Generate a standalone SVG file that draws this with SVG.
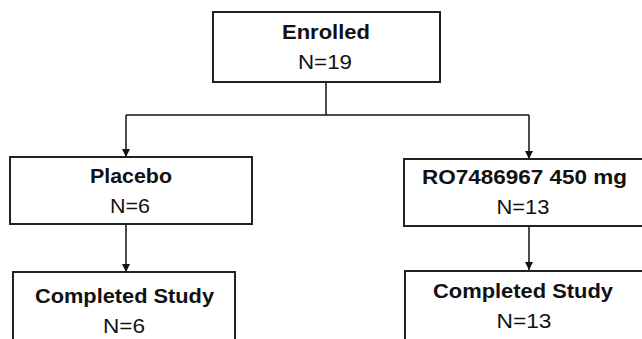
<svg xmlns="http://www.w3.org/2000/svg" width="642" height="339" viewBox="0 0 642 339">
<defs>
<marker id="ah" markerWidth="8" markerHeight="10" refX="8" refY="4" orient="auto" markerUnits="userSpaceOnUse">
<path d="M0,0 L8,4 L0,8 z" fill="#111"/>
</marker>
<style>
.box{fill:#fff;stroke:#222;stroke-width:2}
.t{font-family:"Liberation Sans","Open Sans",Arial,sans-serif;font-size:20px;fill:#111;text-anchor:middle}
.b{font-weight:bold}
.ln{stroke:#111;stroke-width:1.5;fill:none}
</style>
</defs>
<rect width="642" height="339" fill="#fff"/>
<g id="connectors">
<line class="ln" x1="326" y1="82" x2="326" y2="115"/>
<line class="ln" x1="126" y1="115" x2="529" y2="115"/>
<line class="ln" x1="126" y1="115" x2="126" y2="157" marker-end="url(#ah)"/>
<line class="ln" x1="529" y1="115" x2="529" y2="159" marker-end="url(#ah)"/>
<line class="ln" x1="126" y1="225" x2="126" y2="272" marker-end="url(#ah)"/>
<line class="ln" x1="529" y1="226" x2="529" y2="270" marker-end="url(#ah)"/>
</g>
<g id="enrolled">
<rect class="box" x="213" y="12" width="227" height="70"/>
<text class="t b" x="326" y="39" textLength="88" lengthAdjust="spacingAndGlyphs">Enrolled</text>
<text class="t" x="325" y="69" textLength="54" lengthAdjust="spacingAndGlyphs">N=19</text>
</g>
<g id="placebo">
<rect class="box" x="10" y="157" width="242" height="67"/>
<text class="t b" x="131" y="183" textLength="82" lengthAdjust="spacingAndGlyphs">Placebo</text>
<text class="t" x="130" y="213" textLength="40" lengthAdjust="spacingAndGlyphs">N=6</text>
</g>
<g id="ro">
<rect class="box" x="404" y="159" width="250" height="67"/>
<text class="t b" x="524.5" y="184" textLength="205" lengthAdjust="spacingAndGlyphs">RO7486967 450 mg</text>
<text class="t" x="523" y="214" textLength="53" lengthAdjust="spacingAndGlyphs">N=13</text>
</g>
<g id="completed-placebo">
<rect class="box" x="13" y="272" width="222" height="80"/>
<text class="t b" x="124.5" y="303" textLength="179" lengthAdjust="spacingAndGlyphs">Completed Study</text>
<text class="t" x="124" y="333" textLength="42" lengthAdjust="spacingAndGlyphs">N=6</text>
</g>
<g id="completed-ro">
<rect class="box" x="405" y="271" width="250" height="80"/>
<text class="t b" x="523" y="298" textLength="180" lengthAdjust="spacingAndGlyphs">Completed Study</text>
<text class="t" x="524" y="328" textLength="55" lengthAdjust="spacingAndGlyphs">N=13</text>
</g>
</svg>
